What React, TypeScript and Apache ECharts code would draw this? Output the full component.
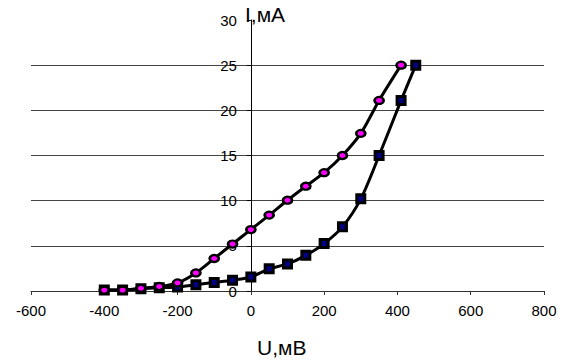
import React, { useEffect, useRef } from "react";
import * as echarts from "echarts";

const xTicks = [-600, -400, -200, 0, 200, 400, 600, 800];
const yTicks = [0, 5, 10, 15, 20, 25, 30];

const uPink = [-400, -350, -300, -250, -200, -150, -100, -50, 0, 50, 100, 150, 200, 250, 300, 350, 410];
const iPink = [0.1, 0.1, 0.3, 0.5, 0.9, 2.0, 3.6, 5.2, 6.8, 8.4, 10.05, 11.6, 13.1, 15.0, 17.45, 21.1, 25];

const uBlue = [-400, -350, -300, -250, -200, -150, -100, -50, 0, 50, 100, 150, 200, 250, 300, 350, 410, 450];
const iBlue = [0.1, 0.1, 0.25, 0.35, 0.45, 0.7, 0.95, 1.2, 1.55, 2.45, 3.0, 3.95, 5.25, 7.1, 10.2, 15.0, 21.1, 25];

const FONT = "'Liberation Sans', Arial, sans-serif";
const GRID_LEFT = 31;
const GRID_RIGHT = 27;
const WIDTH = 571;

export default function App() {
  const ref = useRef<HTMLDivElement>(null);
  useEffect(() => {
    if (!ref.current) return;
    const chart = echarts.init(ref.current, undefined, { renderer: "svg" });
    const xMin = xTicks[0];
    const xMax = xTicks[xTicks.length - 1];
    const plotW = WIDTH - GRID_LEFT - GRID_RIGHT;
    const zeroOffset = ((0 - xMin) / (xMax - xMin)) * plotW;
    chart.setOption({
      animation: false,
      backgroundColor: "#ffffff",
      grid: { left: GRID_LEFT, right: GRID_RIGHT, top: 20, bottom: 69 },
      xAxis: {
        type: "value",
        min: xMin,
        max: xMax,
        interval: 200,
        axisLine: { onZero: false, lineStyle: { color: "#333", width: 1 } },
        axisTick: { show: true, length: 4, inside: false, lineStyle: { color: "#333" } },
        axisLabel: { color: "#000", fontSize: 15, fontFamily: FONT, margin: 12 },
        splitLine: { show: false },
      },
      yAxis: {
        type: "value",
        min: yTicks[0],
        max: yTicks[yTicks.length - 1],
        interval: 5,
        offset: -zeroOffset,
        axisLine: { show: true, onZero: false, lineStyle: { color: "#000", width: 1 } },
        axisTick: { show: true, length: 4, inside: false, lineStyle: { color: "#000" } },
        axisLabel: { color: "#000", fontSize: 15, fontFamily: FONT, margin: 14 },
        splitLine: { show: true, showMaxLine: false, lineStyle: { color: "#444", width: 1 } },
      },
      graphic: [
        {
          type: "text",
          left: 245,
          top: 4,
          z: 10,
          style: { text: "I,мА", fontSize: 21, fontFamily: FONT, fill: "#000" },
        },
        {
          type: "text",
          left: 257,
          top: 337,
          z: 10,
          style: { text: "U,мВ", fontSize: 21, fontFamily: FONT, fill: "#000" },
        },
      ],
      series: [
        {
          type: "line",
          data: uBlue.map((u, k) => [u, iBlue[k]]),
          smooth: 0.3,
          lineStyle: { color: "#000", width: 3 },
          symbol: "rect",
          symbolSize: 8,
          itemStyle: { color: "#000080", borderColor: "#000", borderWidth: 3 },
          z: 3,
        },
        {
          type: "line",
          data: uPink.map((u, k) => [u, iPink[k]]),
          smooth: 0.3,
          lineStyle: { color: "#000", width: 3 },
          symbol: "circle",
          symbolSize: [9, 7],
          itemStyle: { color: "#ff00ff", borderColor: "#000", borderWidth: 2.5 },
          z: 4,
        },
      ],
    });
    return () => chart.dispose();
  }, []);
  return (
    <div
      ref={ref}
      style={{ position: "fixed", left: 0, top: 0, width: WIDTH, height: 360, background: "#fff" }}
    />
  );
}
